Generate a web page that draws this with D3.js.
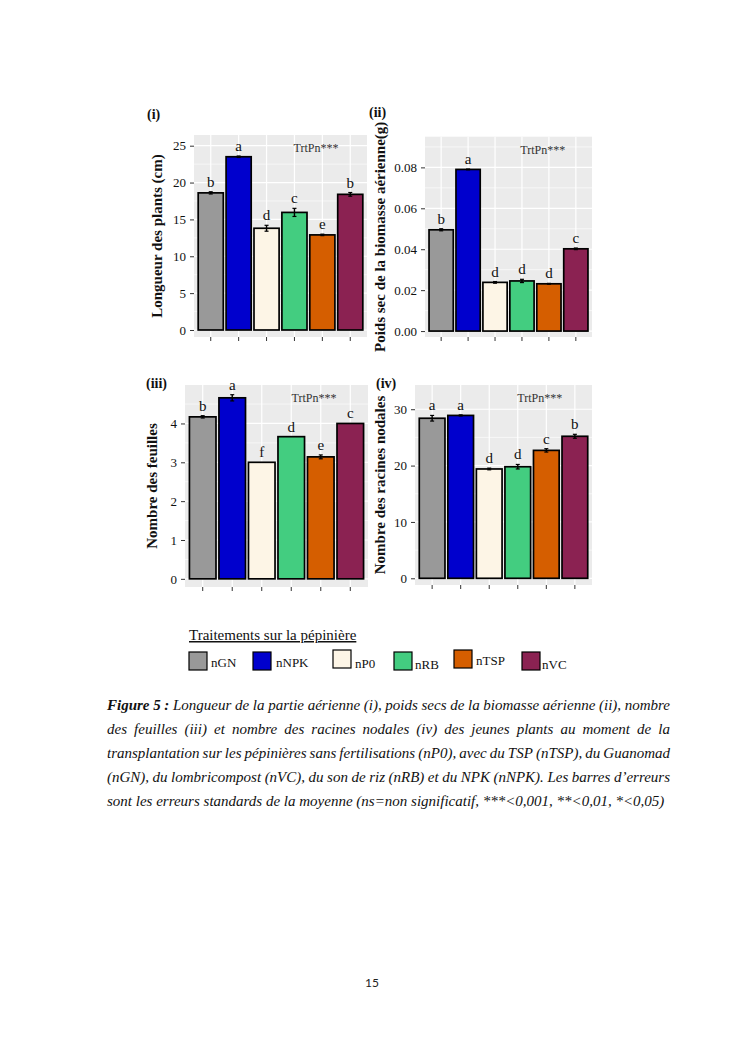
<!DOCTYPE html>
<html>
<head>
<meta charset="utf-8">
<script src="https://cdn.jsdelivr.net/npm/d3@7"></script>
<style>
  body { margin: 0; background: #fff; }
  svg text { font-family: "Liberation Serif", "Times New Roman", serif; }
</style>
</head>
<body>
<script>
// treatments and colours
const treatments = ["nGN", "nNPK", "nP0", "nRB", "nTSP", "nVC"];
const colors = ["#999999", "#0000CD", "#FDF5E6", "#43CD80", "#D55E00", "#8B2252"];

// (i) longueur des plants
const longueur = [18.6, 23.5, 13.8, 15.95, 12.9, 18.4];
const longueurSe = [0.15, 0.1, 0.4, 0.55, 0.1, 0.25];
const longueurLetters = ["b", "a", "d", "c", "e", "b"];
const longueurTicks = [0, 5, 10, 15, 20, 25];

// (ii) poids sec
const poids = [0.0495, 0.079, 0.0238, 0.0245, 0.0231, 0.0402];
const poidsSe = [0.0005, 0.0002, 0.0004, 0.0008, 0.0002, 0.0004];
const poidsLetters = ["b", "a", "d", "d", "d", "c"];
const poidsTicks = [0, 0.02, 0.04, 0.06, 0.08];

// (iii) nombre des feuilles
const feuilles = [4.17, 4.66, 3.0, 3.66, 3.14, 4.0];
const feuillesSe = [0.03, 0.08, 0, 0, 0.05, 0];
const feuillesLetters = ["b", "a", "f", "d", "e", "c"];
const feuillesTicks = [0, 1, 2, 3, 4];

// (iv) nombre des racines nodales
const racines = [28.4, 28.9, 19.4, 19.8, 22.7, 25.2];
const racinesSe = [0.5, 0.1, 0.15, 0.4, 0.3, 0.35];
const racinesLetters = ["a", "a", "d", "d", "c", "b"];
const racinesTicks = [0, 10, 20, 30];

const svg = d3.select("body").append("svg")
  .attr("width", 745).attr("height", 1053);
svg.append("rect").attr("width", 745).attr("height", 1053).attr("fill", "#fff");

function panel(cfg) {
  const x = d3.scaleBand().domain(treatments)
    .range([cfg.left, cfg.right]).paddingInner(0.1).paddingOuter(0.15);
  const y = d3.scaleLinear().domain(cfg.domain).range([cfg.bottom, cfg.top]);
  const g = svg.append("g");

  g.append("rect")
    .attr("x", cfg.left).attr("y", cfg.top)
    .attr("width", cfg.right - cfg.left).attr("height", cfg.bottom - cfg.top)
    .attr("fill", "#EBEBEB");

  // minor grid (half steps)
  const step = cfg.ticks[1] - cfg.ticks[0];
  const minor = d3.range(cfg.ticks[0] + step / 2, cfg.domain[1], step);
  g.selectAll(".minor").data(minor).enter().append("line")
    .attr("x1", cfg.left).attr("x2", cfg.right)
    .attr("y1", d => y(d)).attr("y2", d => y(d))
    .attr("stroke", "#fff").attr("stroke-width", 0.6);
  g.selectAll(".major").data(cfg.ticks).enter().append("line")
    .attr("x1", cfg.left).attr("x2", cfg.right)
    .attr("y1", d => y(d)).attr("y2", d => y(d))
    .attr("stroke", "#fff").attr("stroke-width", 1.2);
  g.selectAll(".vgrid").data(treatments).enter().append("line")
    .attr("x1", d => x(d) + x.bandwidth() / 2).attr("x2", d => x(d) + x.bandwidth() / 2)
    .attr("y1", cfg.top).attr("y2", cfg.bottom)
    .attr("stroke", "#fff").attr("stroke-width", 1.2);

  const rows = treatments.map((t, i) => ({ t: t, v: cfg.values[i], se: cfg.se[i], l: cfg.letters[i], c: colors[i] }));

  g.selectAll(".bar").data(rows).enter().append("rect")
    .attr("x", d => x(d.t)).attr("width", x.bandwidth())
    .attr("y", d => y(d.v)).attr("height", d => y(0) - y(d.v))
    .attr("fill", d => d.c).attr("stroke", "#000").attr("stroke-width", 1.7);

  // error bars
  const eb = g.selectAll(".err").data(rows.filter(d => d.se > 0)).enter().append("g");
  eb.append("line")
    .attr("x1", d => x(d.t) + x.bandwidth() / 2).attr("x2", d => x(d.t) + x.bandwidth() / 2)
    .attr("y1", d => y(d.v - d.se)).attr("y2", d => y(d.v + d.se))
    .attr("stroke", "#000").attr("stroke-width", 1.4);
  eb.selectAll("cap").data(d => [d.v - d.se, d.v + d.se].map(e => ({ t: d.t, e: e })))
    .enter().append("line")
    .attr("x1", d => x(d.t) + x.bandwidth() / 2 - 2).attr("x2", d => x(d.t) + x.bandwidth() / 2 + 2)
    .attr("y1", d => y(d.e)).attr("y2", d => y(d.e))
    .attr("stroke", "#000").attr("stroke-width", 1.2);

  g.selectAll(".lett").data(rows).enter().append("text")
    .attr("x", d => x(d.t) + x.bandwidth() / 2)
    .attr("y", d => y(d.v + d.se) - 5)
    .attr("text-anchor", "middle").attr("font-size", 15).attr("fill", "#111")
    .text(d => d.l);

  g.append("text")
    .attr("x", cfg.left + 0.705 * (cfg.right - cfg.left)).attr("y", cfg.top + 17)
    .attr("text-anchor", "middle").attr("font-size", 12).attr("fill", "#333")
    .text("TrtPn***");

  // axes
  const ya = g.append("g").attr("transform", `translate(${cfg.left},0)`)
    .call(d3.axisLeft(y).tickValues(cfg.ticks).tickSize(4).tickPadding(4).tickFormat(cfg.fmt));
  ya.select(".domain").remove();
  ya.selectAll("line").attr("stroke", "#333");
  ya.selectAll("text").attr("font-size", 13).attr("fill", "#111")
    .style("font-family", "'Liberation Serif', serif");

  const xa = g.append("g").attr("transform", `translate(0,${cfg.bottom})`)
    .call(d3.axisBottom(x).tickSize(4).tickFormat(""));
  xa.select(".domain").remove();
  xa.selectAll("line").attr("stroke", "#333");

  g.append("text")
    .attr("transform", `translate(${cfg.titleX},${(cfg.top + cfg.bottom) / 2}) rotate(-90)`)
    .attr("text-anchor", "middle").attr("dy", "0.35em")
    .attr("font-size", 15).attr("font-weight", "bold").attr("fill", "#111")
    .text(cfg.title);

  g.append("text").attr("x", cfg.tagX).attr("y", cfg.tagY)
    .attr("font-size", 14).attr("font-weight", "bold").attr("fill", "#111")
    .text(cfg.tag);
}

panel({ values: longueur, se: longueurSe, letters: longueurLetters, ticks: longueurTicks,
  fmt: d3.format("d"), domain: [-0.95, 26.45], left: 194, right: 367, top: 135, bottom: 337,
  title: "Longueur des plants (cm)", titleX: 157, tag: "(i)", tagX: 147, tagY: 119 });

panel({ values: poids, se: poidsSe, letters: poidsLetters, ticks: poidsTicks,
  fmt: d3.format(".2f"), domain: [-0.0029, 0.095], left: 425, right: 592, top: 136.7, bottom: 337,
  title: "Poids sec de la biomasse aérienne(g)", titleX: 380, tag: "(ii)", tagX: 369, tagY: 117 });

panel({ values: feuilles, se: feuillesSe, letters: feuillesLetters, ticks: feuillesTicks,
  fmt: d3.format("d"), domain: [-0.21, 4.99], left: 185, right: 368, top: 385, bottom: 587,
  title: "Nombre des feuilles", titleX: 152, tag: "(iii)", tagX: 146, tagY: 388 });

panel({ values: racines, se: racinesSe, letters: racinesLetters, ticks: racinesTicks,
  fmt: d3.format("d"), domain: [-1.19, 34.3], left: 415, right: 592, top: 385, bottom: 585,
  title: "Nombre des racines nodales", titleX: 380, tag: "(iv)", tagX: 376, tagY: 388 });

// legend
const legend = svg.append("g");
legend.append("text").attr("x", 189).attr("y", 640).attr("font-size", 15).attr("fill", "#111")
  .attr("text-decoration", "underline").text("Traitements sur la pépinière");
const legendPos = [
  { sx: 189, sy: 652, tx: 211, ty: 667 },
  { sx: 253, sy: 652, tx: 276, ty: 667 },
  { sx: 333, sy: 650, tx: 355, ty: 668 },
  { sx: 394, sy: 652, tx: 415, ty: 669 },
  { sx: 454, sy: 650, tx: 476, ty: 665 },
  { sx: 522, sy: 652, tx: 542, ty: 669 }
];
treatments.forEach((t, i) => {
  legend.append("rect").attr("x", legendPos[i].sx).attr("y", legendPos[i].sy)
    .attr("width", 18).attr("height", 18)
    .attr("fill", colors[i]).attr("stroke", "#000").attr("stroke-width", 1.2);
  legend.append("text").attr("x", legendPos[i].tx).attr("y", legendPos[i].ty)
    .attr("font-size", 13).attr("fill", "#111").text(t);
});

// caption, justified by hand
const captionLines = [
  "Figure 5 : Longueur de la partie aérienne (i), poids secs de la biomasse aérienne (ii), nombre",
  "des feuilles (iii) et nombre des racines nodales (iv) des jeunes plants au moment de la",
  "transplantation sur les pépinières sans fertilisations (nP0), avec du TSP (nTSP), du Guanomad",
  "(nGN), du lombricompost (nVC), du son de riz (nRB) et du NPK (nNPK). Les barres d’erreurs",
  "sont les erreurs standards de la moyenne (ns=non significatif, ***<0,001, **<0,01, *<0,05)"
];
const capLeft = 107, capRight = 670, capSize = 15;
const cap = svg.append("g");
captionLines.forEach((line, li) => {
  const words = line.split(" ");
  const nodes = words.map((w, wi) => cap.append("text")
    .attr("y", 710 + li * 24)
    .attr("font-size", capSize).attr("font-style", "italic")
    .attr("font-weight", li === 0 && wi < 3 ? "bold" : "normal")
    .attr("fill", "#111").text(w));
  const widths = nodes.map(n => n.node().getComputedTextLength());
  const total = d3.sum(widths);
  const last = li === captionLines.length - 1;
  const gap = last ? capSize * 0.25 : (capRight - capLeft - total) / (words.length - 1);
  let cx = capLeft;
  nodes.forEach((n, i) => { n.attr("x", cx); cx += widths[i] + gap; });
});

svg.append("text").attr("x", 372).attr("y", 987).attr("text-anchor", "middle")
  .attr("font-size", 12).attr("fill", "#222")
  .style("font-family", "Lato, 'Open Sans', sans-serif").text("15");
</script>
</body>
</html>
